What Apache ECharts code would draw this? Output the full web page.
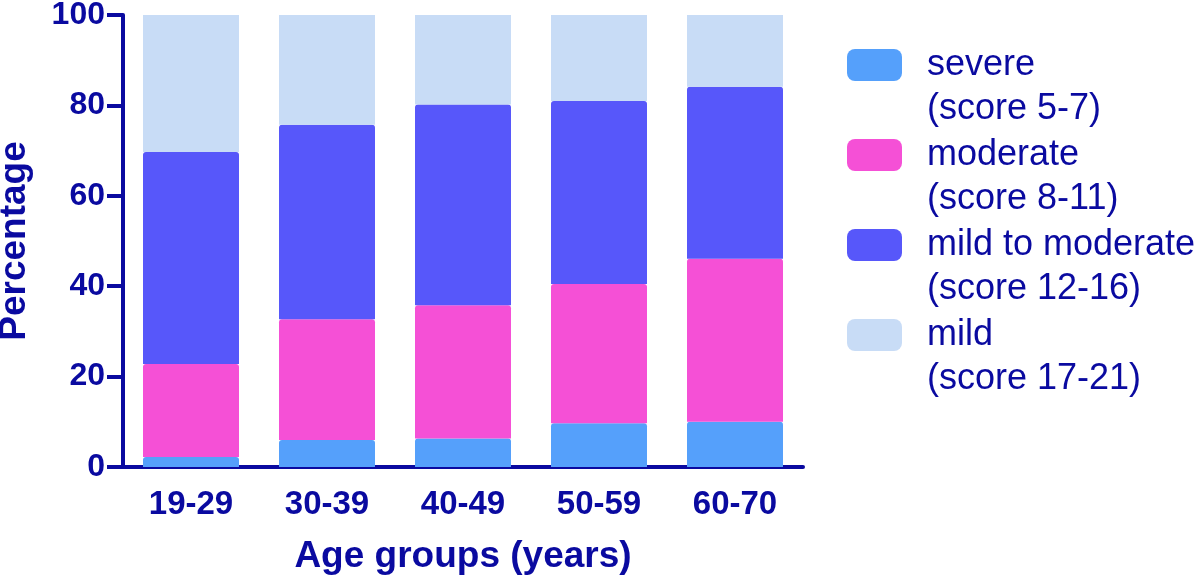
<!DOCTYPE html>
<html>
<head>
<meta charset="utf-8">
<script src="https://cdn.jsdelivr.net/npm/echarts@6/dist/echarts.min.js"></script>
<style>
  html, body { margin: 0; padding: 0; background: #fff; }
  #chart { width: 1200px; height: 580px; }
</style>
</head>
<body>
<div id="chart"></div>
<script>
const ageGroups = ['19-29', '30-39', '40-49', '50-59', '60-70']
const severe = [2.2, 6.0, 6.3, 9.7, 10.0]
const moderate = [20.6, 26.7, 29.5, 30.8, 36.1]
const mildToModerate = [46.9, 43.0, 44.4, 40.5, 38.0]
const mild = [30.3, 24.3, 19.8, 19.0, 15.9]
const seriesNames = ['severe', 'moderate', 'mild to moderate', 'mild']
const scoreRanges = ['(score 5-7)', '(score 8-11)', '(score 12-16)', '(score 17-21)']
const colors = ['#55a0fb', '#f550d6', '#5757fa', '#c8dcf6']

const navy = '#0a0aa0'
const font = '"Liberation Sans", Arial, sans-serif'

const chart = echarts.init(document.getElementById('chart'), null, { renderer: 'canvas' })

const makeSeries = (name, data, i) => ({
  name,
  type: 'bar',
  stack: 'total',
  barWidth: 96,
  data,
  itemStyle: { color: colors[i], borderRadius: i < 3 ? [3, 3, 0, 0] : 0 }
})

chart.setOption({
  animation: false,
  color: colors,
  grid: { left: 123, top: 15, width: 680, height: 452, outerBoundsMode: 'none', containLabel: false },
  legend: {
    orient: 'vertical',
    left: 847,
    top: -1,
    padding: 0,
    itemWidth: 55,
    itemHeight: 32,
    itemGap: -42,
    icon: 'roundRect',
    // leading empty line puts the swatch level with the first text line
    formatter: name => '\n' + name + '\n' + scoreRanges[seriesNames.indexOf(name)],
    textStyle: {
      color: navy,
      fontFamily: font,
      fontSize: 36,
      lineHeight: 44,
      padding: [0, 0, 0, 20]
    },
    data: seriesNames
  },
  xAxis: {
    type: 'category',
    data: ageGroups,
    name: 'Age groups (years)',
    nameLocation: 'middle',
    nameGap: 71,
    nameTextStyle: { color: navy, fontFamily: font, fontWeight: 'bold', fontSize: 37 },
    axisLine: { lineStyle: { color: navy, width: 4 } },
    axisTick: { alignWithLabel: true, length: 14, lineStyle: { color: navy, width: 4 } },
    axisLabel: { color: navy, fontFamily: font, fontWeight: 'bold', fontSize: 33, margin: 21 }
  },
  yAxis: {
    type: 'value',
    min: 0,
    max: 100,
    interval: 20,
    name: 'Percentage',
    nameLocation: 'middle',
    nameGap: 90,
    nameTextStyle: { color: navy, fontFamily: font, fontWeight: 'bold', fontSize: 37 },
    axisLine: { show: true, lineStyle: { color: navy, width: 4 } },
    axisTick: { show: true, length: 16, lineStyle: { color: navy, width: 4 } },
    axisLabel: { color: navy, fontFamily: font, fontWeight: 'bold', fontSize: 32, margin: 18 },
    splitLine: { show: false }
  },
  series: [
    makeSeries(seriesNames[0], severe, 0),
    makeSeries(seriesNames[1], moderate, 1),
    makeSeries(seriesNames[2], mildToModerate, 2),
    makeSeries(seriesNames[3], mild, 3)
  ]
})
</script>
</body>
</html>
